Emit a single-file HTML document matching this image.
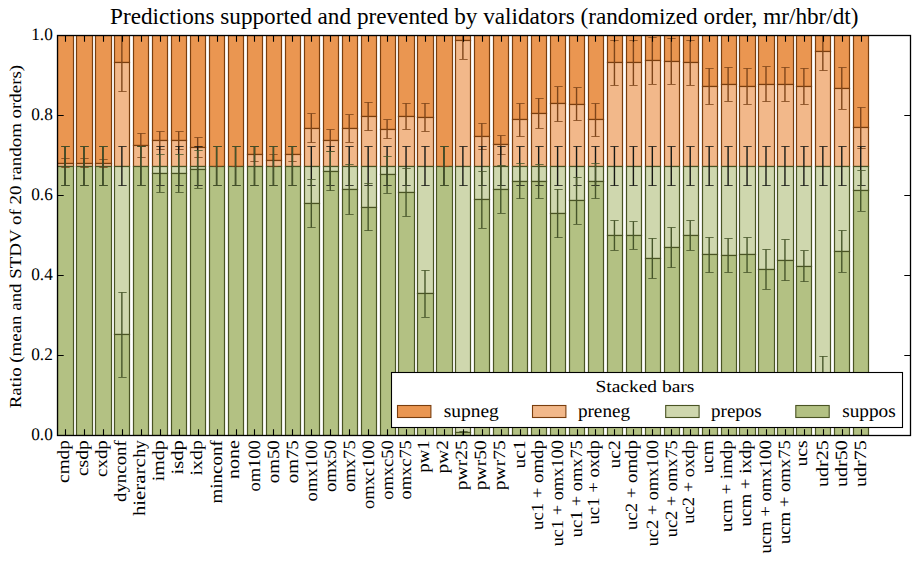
<!DOCTYPE html><html><head><meta charset="utf-8"><style>html,body{margin:0;padding:0;background:#fff;width:919px;height:562px;overflow:hidden}</style></head><body><svg width="919" height="562" viewBox="0 0 919 562" style="position:absolute;left:0;top:0">
<defs><clipPath id="ax"><rect x="57.5" y="35.3" width="852.5" height="400.0"/></clipPath></defs>
<g clip-path="url(#ax)"><rect x="57.5" y="35.50" width="16.0" height="128.00" fill="#EA9651" stroke="#7A3E0E" stroke-width="1.2"/><rect x="57.5" y="163.50" width="16.0" height="3.00" fill="#F2B88A" stroke="#7A3E0E" stroke-width="1.2"/><rect x="57.5" y="166.50" width="16.0" height="269.00" fill="#B3C183" stroke="#4A5424" stroke-width="1.2"/><rect x="76.5" y="35.50" width="16.0" height="128.00" fill="#EA9651" stroke="#7A3E0E" stroke-width="1.2"/><rect x="76.5" y="163.50" width="16.0" height="3.00" fill="#F2B88A" stroke="#7A3E0E" stroke-width="1.2"/><rect x="76.5" y="166.50" width="16.0" height="269.00" fill="#B3C183" stroke="#4A5424" stroke-width="1.2"/><rect x="95.5" y="35.50" width="16.0" height="128.00" fill="#EA9651" stroke="#7A3E0E" stroke-width="1.2"/><rect x="95.5" y="163.50" width="16.0" height="3.00" fill="#F2B88A" stroke="#7A3E0E" stroke-width="1.2"/><rect x="95.5" y="166.50" width="16.0" height="269.00" fill="#B3C183" stroke="#4A5424" stroke-width="1.2"/><rect x="114.5" y="35.50" width="15.0" height="27.00" fill="#EA9651" stroke="#7A3E0E" stroke-width="1.2"/><rect x="114.5" y="62.50" width="15.0" height="104.00" fill="#F2B88A" stroke="#7A3E0E" stroke-width="1.2"/><rect x="114.5" y="166.50" width="15.0" height="168.00" fill="#CFD7AE" stroke="#4A5424" stroke-width="1.2"/><rect x="114.5" y="334.50" width="15.0" height="101.00" fill="#B3C183" stroke="#4A5424" stroke-width="1.2"/><rect x="133.5" y="35.50" width="15.0" height="110.00" fill="#EA9651" stroke="#7A3E0E" stroke-width="1.2"/><rect x="133.5" y="145.50" width="15.0" height="21.00" fill="#F2B88A" stroke="#7A3E0E" stroke-width="1.2"/><rect x="133.5" y="166.50" width="15.0" height="269.00" fill="#B3C183" stroke="#4A5424" stroke-width="1.2"/><rect x="152.5" y="35.50" width="15.0" height="105.00" fill="#EA9651" stroke="#7A3E0E" stroke-width="1.2"/><rect x="152.5" y="140.50" width="15.0" height="26.00" fill="#F2B88A" stroke="#7A3E0E" stroke-width="1.2"/><rect x="152.5" y="166.50" width="15.0" height="7.00" fill="#CFD7AE" stroke="#4A5424" stroke-width="1.2"/><rect x="152.5" y="173.50" width="15.0" height="262.00" fill="#B3C183" stroke="#4A5424" stroke-width="1.2"/><rect x="171.5" y="35.50" width="15.0" height="105.00" fill="#EA9651" stroke="#7A3E0E" stroke-width="1.2"/><rect x="171.5" y="140.50" width="15.0" height="26.00" fill="#F2B88A" stroke="#7A3E0E" stroke-width="1.2"/><rect x="171.5" y="166.50" width="15.0" height="7.00" fill="#CFD7AE" stroke="#4A5424" stroke-width="1.2"/><rect x="171.5" y="173.50" width="15.0" height="262.00" fill="#B3C183" stroke="#4A5424" stroke-width="1.2"/><rect x="190.5" y="35.50" width="15.0" height="112.00" fill="#EA9651" stroke="#7A3E0E" stroke-width="1.2"/><rect x="190.5" y="147.50" width="15.0" height="19.00" fill="#F2B88A" stroke="#7A3E0E" stroke-width="1.2"/><rect x="190.5" y="166.50" width="15.0" height="3.00" fill="#CFD7AE" stroke="#4A5424" stroke-width="1.2"/><rect x="190.5" y="169.50" width="15.0" height="266.00" fill="#B3C183" stroke="#4A5424" stroke-width="1.2"/><rect x="209.5" y="35.50" width="15.0" height="131.00" fill="#EA9651" stroke="#7A3E0E" stroke-width="1.2"/><rect x="209.5" y="166.50" width="15.0" height="269.00" fill="#B3C183" stroke="#4A5424" stroke-width="1.2"/><rect x="228.5" y="35.50" width="15.0" height="131.00" fill="#EA9651" stroke="#7A3E0E" stroke-width="1.2"/><rect x="228.5" y="166.50" width="15.0" height="269.00" fill="#B3C183" stroke="#4A5424" stroke-width="1.2"/><rect x="247.5" y="35.50" width="15.0" height="119.00" fill="#EA9651" stroke="#7A3E0E" stroke-width="1.2"/><rect x="247.5" y="154.50" width="15.0" height="12.00" fill="#F2B88A" stroke="#7A3E0E" stroke-width="1.2"/><rect x="247.5" y="166.50" width="15.0" height="269.00" fill="#B3C183" stroke="#4A5424" stroke-width="1.2"/><rect x="266.5" y="35.50" width="15.0" height="125.00" fill="#EA9651" stroke="#7A3E0E" stroke-width="1.2"/><rect x="266.5" y="160.50" width="15.0" height="6.00" fill="#F2B88A" stroke="#7A3E0E" stroke-width="1.2"/><rect x="266.5" y="166.50" width="15.0" height="269.00" fill="#B3C183" stroke="#4A5424" stroke-width="1.2"/><rect x="285.5" y="35.50" width="15.0" height="119.00" fill="#EA9651" stroke="#7A3E0E" stroke-width="1.2"/><rect x="285.5" y="154.50" width="15.0" height="12.00" fill="#F2B88A" stroke="#7A3E0E" stroke-width="1.2"/><rect x="285.5" y="166.50" width="15.0" height="269.00" fill="#B3C183" stroke="#4A5424" stroke-width="1.2"/><rect x="304.5" y="35.50" width="15.0" height="93.00" fill="#EA9651" stroke="#7A3E0E" stroke-width="1.2"/><rect x="304.5" y="128.50" width="15.0" height="38.00" fill="#F2B88A" stroke="#7A3E0E" stroke-width="1.2"/><rect x="304.5" y="166.50" width="15.0" height="37.00" fill="#CFD7AE" stroke="#4A5424" stroke-width="1.2"/><rect x="304.5" y="203.50" width="15.0" height="232.00" fill="#B3C183" stroke="#4A5424" stroke-width="1.2"/><rect x="323.5" y="35.50" width="15.0" height="105.00" fill="#EA9651" stroke="#7A3E0E" stroke-width="1.2"/><rect x="323.5" y="140.50" width="15.0" height="26.00" fill="#F2B88A" stroke="#7A3E0E" stroke-width="1.2"/><rect x="323.5" y="166.50" width="15.0" height="5.00" fill="#CFD7AE" stroke="#4A5424" stroke-width="1.2"/><rect x="323.5" y="171.50" width="15.0" height="264.00" fill="#B3C183" stroke="#4A5424" stroke-width="1.2"/><rect x="342.5" y="35.50" width="15.0" height="93.00" fill="#EA9651" stroke="#7A3E0E" stroke-width="1.2"/><rect x="342.5" y="128.50" width="15.0" height="38.00" fill="#F2B88A" stroke="#7A3E0E" stroke-width="1.2"/><rect x="342.5" y="166.50" width="15.0" height="23.00" fill="#CFD7AE" stroke="#4A5424" stroke-width="1.2"/><rect x="342.5" y="189.50" width="15.0" height="246.00" fill="#B3C183" stroke="#4A5424" stroke-width="1.2"/><rect x="361.5" y="35.50" width="15.0" height="81.00" fill="#EA9651" stroke="#7A3E0E" stroke-width="1.2"/><rect x="361.5" y="116.50" width="15.0" height="50.00" fill="#F2B88A" stroke="#7A3E0E" stroke-width="1.2"/><rect x="361.5" y="166.50" width="15.0" height="41.00" fill="#CFD7AE" stroke="#4A5424" stroke-width="1.2"/><rect x="361.5" y="207.50" width="15.0" height="228.00" fill="#B3C183" stroke="#4A5424" stroke-width="1.2"/><rect x="380.5" y="35.50" width="15.0" height="94.00" fill="#EA9651" stroke="#7A3E0E" stroke-width="1.2"/><rect x="380.5" y="129.50" width="15.0" height="37.00" fill="#F2B88A" stroke="#7A3E0E" stroke-width="1.2"/><rect x="380.5" y="166.50" width="15.0" height="8.00" fill="#CFD7AE" stroke="#4A5424" stroke-width="1.2"/><rect x="380.5" y="174.50" width="15.0" height="261.00" fill="#B3C183" stroke="#4A5424" stroke-width="1.2"/><rect x="398.5" y="35.50" width="16.0" height="81.00" fill="#EA9651" stroke="#7A3E0E" stroke-width="1.2"/><rect x="398.5" y="116.50" width="16.0" height="50.00" fill="#F2B88A" stroke="#7A3E0E" stroke-width="1.2"/><rect x="398.5" y="166.50" width="16.0" height="26.00" fill="#CFD7AE" stroke="#4A5424" stroke-width="1.2"/><rect x="398.5" y="192.50" width="16.0" height="243.00" fill="#B3C183" stroke="#4A5424" stroke-width="1.2"/><rect x="417.5" y="35.50" width="16.0" height="82.00" fill="#EA9651" stroke="#7A3E0E" stroke-width="1.2"/><rect x="417.5" y="117.50" width="16.0" height="49.00" fill="#F2B88A" stroke="#7A3E0E" stroke-width="1.2"/><rect x="417.5" y="166.50" width="16.0" height="127.00" fill="#CFD7AE" stroke="#4A5424" stroke-width="1.2"/><rect x="417.5" y="293.50" width="16.0" height="142.00" fill="#B3C183" stroke="#4A5424" stroke-width="1.2"/><rect x="436.5" y="35.50" width="16.0" height="131.00" fill="#EA9651" stroke="#7A3E0E" stroke-width="1.2"/><rect x="436.5" y="166.50" width="16.0" height="269.00" fill="#B3C183" stroke="#4A5424" stroke-width="1.2"/><rect x="455.5" y="35.50" width="15.0" height="5.00" fill="#EA9651" stroke="#7A3E0E" stroke-width="1.2"/><rect x="455.5" y="40.50" width="15.0" height="126.00" fill="#F2B88A" stroke="#7A3E0E" stroke-width="1.2"/><rect x="455.5" y="166.50" width="15.0" height="266.00" fill="#CFD7AE" stroke="#4A5424" stroke-width="1.2"/><rect x="455.5" y="432.50" width="15.0" height="3.00" fill="#B3C183" stroke="#4A5424" stroke-width="1.2"/><rect x="474.5" y="35.50" width="15.0" height="101.00" fill="#EA9651" stroke="#7A3E0E" stroke-width="1.2"/><rect x="474.5" y="136.50" width="15.0" height="30.00" fill="#F2B88A" stroke="#7A3E0E" stroke-width="1.2"/><rect x="474.5" y="166.50" width="15.0" height="33.00" fill="#CFD7AE" stroke="#4A5424" stroke-width="1.2"/><rect x="474.5" y="199.50" width="15.0" height="236.00" fill="#B3C183" stroke="#4A5424" stroke-width="1.2"/><rect x="493.5" y="35.50" width="15.0" height="109.00" fill="#EA9651" stroke="#7A3E0E" stroke-width="1.2"/><rect x="493.5" y="144.50" width="15.0" height="22.00" fill="#F2B88A" stroke="#7A3E0E" stroke-width="1.2"/><rect x="493.5" y="166.50" width="15.0" height="23.00" fill="#CFD7AE" stroke="#4A5424" stroke-width="1.2"/><rect x="493.5" y="189.50" width="15.0" height="246.00" fill="#B3C183" stroke="#4A5424" stroke-width="1.2"/><rect x="512.5" y="35.50" width="15.0" height="84.00" fill="#EA9651" stroke="#7A3E0E" stroke-width="1.2"/><rect x="512.5" y="119.50" width="15.0" height="47.00" fill="#F2B88A" stroke="#7A3E0E" stroke-width="1.2"/><rect x="512.5" y="166.50" width="15.0" height="15.00" fill="#CFD7AE" stroke="#4A5424" stroke-width="1.2"/><rect x="512.5" y="181.50" width="15.0" height="254.00" fill="#B3C183" stroke="#4A5424" stroke-width="1.2"/><rect x="531.5" y="35.50" width="15.0" height="78.00" fill="#EA9651" stroke="#7A3E0E" stroke-width="1.2"/><rect x="531.5" y="113.50" width="15.0" height="53.00" fill="#F2B88A" stroke="#7A3E0E" stroke-width="1.2"/><rect x="531.5" y="166.50" width="15.0" height="15.00" fill="#CFD7AE" stroke="#4A5424" stroke-width="1.2"/><rect x="531.5" y="181.50" width="15.0" height="254.00" fill="#B3C183" stroke="#4A5424" stroke-width="1.2"/><rect x="550.5" y="35.50" width="15.0" height="68.00" fill="#EA9651" stroke="#7A3E0E" stroke-width="1.2"/><rect x="550.5" y="103.50" width="15.0" height="63.00" fill="#F2B88A" stroke="#7A3E0E" stroke-width="1.2"/><rect x="550.5" y="166.50" width="15.0" height="47.00" fill="#CFD7AE" stroke="#4A5424" stroke-width="1.2"/><rect x="550.5" y="213.50" width="15.0" height="222.00" fill="#B3C183" stroke="#4A5424" stroke-width="1.2"/><rect x="569.5" y="35.50" width="15.0" height="69.00" fill="#EA9651" stroke="#7A3E0E" stroke-width="1.2"/><rect x="569.5" y="104.50" width="15.0" height="62.00" fill="#F2B88A" stroke="#7A3E0E" stroke-width="1.2"/><rect x="569.5" y="166.50" width="15.0" height="34.00" fill="#CFD7AE" stroke="#4A5424" stroke-width="1.2"/><rect x="569.5" y="200.50" width="15.0" height="235.00" fill="#B3C183" stroke="#4A5424" stroke-width="1.2"/><rect x="588.5" y="35.50" width="15.0" height="84.00" fill="#EA9651" stroke="#7A3E0E" stroke-width="1.2"/><rect x="588.5" y="119.50" width="15.0" height="47.00" fill="#F2B88A" stroke="#7A3E0E" stroke-width="1.2"/><rect x="588.5" y="166.50" width="15.0" height="15.00" fill="#CFD7AE" stroke="#4A5424" stroke-width="1.2"/><rect x="588.5" y="181.50" width="15.0" height="254.00" fill="#B3C183" stroke="#4A5424" stroke-width="1.2"/><rect x="607.5" y="35.50" width="15.0" height="27.00" fill="#EA9651" stroke="#7A3E0E" stroke-width="1.2"/><rect x="607.5" y="62.50" width="15.0" height="104.00" fill="#F2B88A" stroke="#7A3E0E" stroke-width="1.2"/><rect x="607.5" y="166.50" width="15.0" height="69.00" fill="#CFD7AE" stroke="#4A5424" stroke-width="1.2"/><rect x="607.5" y="235.50" width="15.0" height="200.00" fill="#B3C183" stroke="#4A5424" stroke-width="1.2"/><rect x="626.5" y="35.50" width="15.0" height="27.00" fill="#EA9651" stroke="#7A3E0E" stroke-width="1.2"/><rect x="626.5" y="62.50" width="15.0" height="104.00" fill="#F2B88A" stroke="#7A3E0E" stroke-width="1.2"/><rect x="626.5" y="166.50" width="15.0" height="69.00" fill="#CFD7AE" stroke="#4A5424" stroke-width="1.2"/><rect x="626.5" y="235.50" width="15.0" height="200.00" fill="#B3C183" stroke="#4A5424" stroke-width="1.2"/><rect x="645.5" y="35.50" width="15.0" height="25.00" fill="#EA9651" stroke="#7A3E0E" stroke-width="1.2"/><rect x="645.5" y="60.50" width="15.0" height="106.00" fill="#F2B88A" stroke="#7A3E0E" stroke-width="1.2"/><rect x="645.5" y="166.50" width="15.0" height="92.00" fill="#CFD7AE" stroke="#4A5424" stroke-width="1.2"/><rect x="645.5" y="258.50" width="15.0" height="177.00" fill="#B3C183" stroke="#4A5424" stroke-width="1.2"/><rect x="664.5" y="35.50" width="15.0" height="26.00" fill="#EA9651" stroke="#7A3E0E" stroke-width="1.2"/><rect x="664.5" y="61.50" width="15.0" height="105.00" fill="#F2B88A" stroke="#7A3E0E" stroke-width="1.2"/><rect x="664.5" y="166.50" width="15.0" height="81.00" fill="#CFD7AE" stroke="#4A5424" stroke-width="1.2"/><rect x="664.5" y="247.50" width="15.0" height="188.00" fill="#B3C183" stroke="#4A5424" stroke-width="1.2"/><rect x="683.5" y="35.50" width="15.0" height="27.00" fill="#EA9651" stroke="#7A3E0E" stroke-width="1.2"/><rect x="683.5" y="62.50" width="15.0" height="104.00" fill="#F2B88A" stroke="#7A3E0E" stroke-width="1.2"/><rect x="683.5" y="166.50" width="15.0" height="69.00" fill="#CFD7AE" stroke="#4A5424" stroke-width="1.2"/><rect x="683.5" y="235.50" width="15.0" height="200.00" fill="#B3C183" stroke="#4A5424" stroke-width="1.2"/><rect x="702.5" y="35.50" width="15.0" height="51.00" fill="#EA9651" stroke="#7A3E0E" stroke-width="1.2"/><rect x="702.5" y="86.50" width="15.0" height="80.00" fill="#F2B88A" stroke="#7A3E0E" stroke-width="1.2"/><rect x="702.5" y="166.50" width="15.0" height="88.00" fill="#CFD7AE" stroke="#4A5424" stroke-width="1.2"/><rect x="702.5" y="254.50" width="15.0" height="181.00" fill="#B3C183" stroke="#4A5424" stroke-width="1.2"/><rect x="721.5" y="35.50" width="15.0" height="49.00" fill="#EA9651" stroke="#7A3E0E" stroke-width="1.2"/><rect x="721.5" y="84.50" width="15.0" height="82.00" fill="#F2B88A" stroke="#7A3E0E" stroke-width="1.2"/><rect x="721.5" y="166.50" width="15.0" height="89.00" fill="#CFD7AE" stroke="#4A5424" stroke-width="1.2"/><rect x="721.5" y="255.50" width="15.0" height="180.00" fill="#B3C183" stroke="#4A5424" stroke-width="1.2"/><rect x="739.5" y="35.50" width="16.0" height="51.00" fill="#EA9651" stroke="#7A3E0E" stroke-width="1.2"/><rect x="739.5" y="86.50" width="16.0" height="80.00" fill="#F2B88A" stroke="#7A3E0E" stroke-width="1.2"/><rect x="739.5" y="166.50" width="16.0" height="88.00" fill="#CFD7AE" stroke="#4A5424" stroke-width="1.2"/><rect x="739.5" y="254.50" width="16.0" height="181.00" fill="#B3C183" stroke="#4A5424" stroke-width="1.2"/><rect x="758.5" y="35.50" width="16.0" height="49.00" fill="#EA9651" stroke="#7A3E0E" stroke-width="1.2"/><rect x="758.5" y="84.50" width="16.0" height="82.00" fill="#F2B88A" stroke="#7A3E0E" stroke-width="1.2"/><rect x="758.5" y="166.50" width="16.0" height="103.00" fill="#CFD7AE" stroke="#4A5424" stroke-width="1.2"/><rect x="758.5" y="269.50" width="16.0" height="166.00" fill="#B3C183" stroke="#4A5424" stroke-width="1.2"/><rect x="777.5" y="35.50" width="16.0" height="49.00" fill="#EA9651" stroke="#7A3E0E" stroke-width="1.2"/><rect x="777.5" y="84.50" width="16.0" height="82.00" fill="#F2B88A" stroke="#7A3E0E" stroke-width="1.2"/><rect x="777.5" y="166.50" width="16.0" height="94.00" fill="#CFD7AE" stroke="#4A5424" stroke-width="1.2"/><rect x="777.5" y="260.50" width="16.0" height="175.00" fill="#B3C183" stroke="#4A5424" stroke-width="1.2"/><rect x="796.5" y="35.50" width="15.0" height="51.00" fill="#EA9651" stroke="#7A3E0E" stroke-width="1.2"/><rect x="796.5" y="86.50" width="15.0" height="80.00" fill="#F2B88A" stroke="#7A3E0E" stroke-width="1.2"/><rect x="796.5" y="166.50" width="15.0" height="100.00" fill="#CFD7AE" stroke="#4A5424" stroke-width="1.2"/><rect x="796.5" y="266.50" width="15.0" height="169.00" fill="#B3C183" stroke="#4A5424" stroke-width="1.2"/><rect x="815.5" y="35.50" width="15.0" height="16.00" fill="#EA9651" stroke="#7A3E0E" stroke-width="1.2"/><rect x="815.5" y="51.50" width="15.0" height="115.00" fill="#F2B88A" stroke="#7A3E0E" stroke-width="1.2"/><rect x="815.5" y="166.50" width="15.0" height="221.00" fill="#CFD7AE" stroke="#4A5424" stroke-width="1.2"/><rect x="815.5" y="387.50" width="15.0" height="48.00" fill="#B3C183" stroke="#4A5424" stroke-width="1.2"/><rect x="834.5" y="35.50" width="15.0" height="53.00" fill="#EA9651" stroke="#7A3E0E" stroke-width="1.2"/><rect x="834.5" y="88.50" width="15.0" height="78.00" fill="#F2B88A" stroke="#7A3E0E" stroke-width="1.2"/><rect x="834.5" y="166.50" width="15.0" height="85.00" fill="#CFD7AE" stroke="#4A5424" stroke-width="1.2"/><rect x="834.5" y="251.50" width="15.0" height="184.00" fill="#B3C183" stroke="#4A5424" stroke-width="1.2"/><rect x="853.5" y="35.50" width="15.0" height="92.00" fill="#EA9651" stroke="#7A3E0E" stroke-width="1.2"/><rect x="853.5" y="127.50" width="15.0" height="39.00" fill="#F2B88A" stroke="#7A3E0E" stroke-width="1.2"/><rect x="853.5" y="166.50" width="15.0" height="24.00" fill="#CFD7AE" stroke="#4A5424" stroke-width="1.2"/><rect x="853.5" y="190.50" width="15.0" height="245.00" fill="#B3C183" stroke="#4A5424" stroke-width="1.2"/><path d="M65.04 158.73V167.53" stroke="#7E451A" stroke-width="1.39" fill="none"/><path d="M61.33 158.50H69.67M61.33 167.50H69.67" stroke="#7E451A" stroke-width="0.8" fill="none"/><path d="M65.04 146.53V185.72" stroke="#161814" stroke-width="1.39" fill="none"/><path d="M61.33 146.50H69.67M61.33 185.50H69.67" stroke="#161814" stroke-width="0.8" fill="none"/><path d="M65.04 146.73V185.52" stroke="#46552A" stroke-width="1.39" fill="none"/><path d="M61.33 146.50H69.67M61.33 185.50H69.67" stroke="#46552A" stroke-width="0.8" fill="none"/><path d="M83.98 158.73V167.53" stroke="#7E451A" stroke-width="1.39" fill="none"/><path d="M80.33 158.50H88.67M80.33 167.50H88.67" stroke="#7E451A" stroke-width="0.8" fill="none"/><path d="M83.98 146.53V185.72" stroke="#161814" stroke-width="1.39" fill="none"/><path d="M80.33 146.50H88.67M80.33 185.50H88.67" stroke="#161814" stroke-width="0.8" fill="none"/><path d="M83.98 146.73V185.52" stroke="#46552A" stroke-width="1.39" fill="none"/><path d="M80.33 146.50H88.67M80.33 185.50H88.67" stroke="#46552A" stroke-width="0.8" fill="none"/><path d="M102.93 159.33V167.33" stroke="#7E451A" stroke-width="1.39" fill="none"/><path d="M99.33 159.50H107.67M99.33 167.50H107.67" stroke="#7E451A" stroke-width="0.8" fill="none"/><path d="M102.93 146.53V185.72" stroke="#161814" stroke-width="1.39" fill="none"/><path d="M99.33 146.50H107.67M99.33 185.50H107.67" stroke="#161814" stroke-width="0.8" fill="none"/><path d="M102.93 146.73V185.52" stroke="#46552A" stroke-width="1.39" fill="none"/><path d="M99.33 146.50H107.67M99.33 185.50H107.67" stroke="#46552A" stroke-width="0.8" fill="none"/><path d="M121.87 33.62V91.45" stroke="#7E451A" stroke-width="1.39" fill="none"/><path d="M118.33 33.50H126.67M118.33 91.50H126.67" stroke="#7E451A" stroke-width="0.8" fill="none"/><path d="M121.87 146.53V185.72" stroke="#161814" stroke-width="1.39" fill="none"/><path d="M118.33 146.50H126.67M118.33 185.50H126.67" stroke="#161814" stroke-width="0.8" fill="none"/><path d="M121.87 292.31V377.11" stroke="#46552A" stroke-width="1.39" fill="none"/><path d="M118.33 292.50H126.67M118.33 377.50H126.67" stroke="#46552A" stroke-width="0.8" fill="none"/><path d="M140.82 133.13V157.93" stroke="#7E451A" stroke-width="1.39" fill="none"/><path d="M137.33 133.50H145.67M137.33 157.50H145.67" stroke="#7E451A" stroke-width="0.8" fill="none"/><path d="M140.82 146.53V185.72" stroke="#161814" stroke-width="1.39" fill="none"/><path d="M137.33 146.50H145.67M137.33 185.50H145.67" stroke="#161814" stroke-width="0.8" fill="none"/><path d="M140.82 146.73V185.52" stroke="#46552A" stroke-width="1.39" fill="none"/><path d="M137.33 146.50H145.67M137.33 185.50H145.67" stroke="#46552A" stroke-width="0.8" fill="none"/><path d="M159.76 131.53V149.13" stroke="#7E451A" stroke-width="1.39" fill="none"/><path d="M156.33 131.50H164.67M156.33 149.50H164.67" stroke="#7E451A" stroke-width="0.8" fill="none"/><path d="M159.76 146.53V185.72" stroke="#161814" stroke-width="1.39" fill="none"/><path d="M156.33 146.50H164.67M156.33 185.50H164.67" stroke="#161814" stroke-width="0.8" fill="none"/><path d="M159.76 154.13V192.36" stroke="#46552A" stroke-width="1.39" fill="none"/><path d="M156.33 154.50H164.67M156.33 192.50H164.67" stroke="#46552A" stroke-width="0.8" fill="none"/><path d="M178.71 131.53V149.13" stroke="#7E451A" stroke-width="1.39" fill="none"/><path d="M175.33 131.50H183.67M175.33 149.50H183.67" stroke="#7E451A" stroke-width="0.8" fill="none"/><path d="M178.71 146.53V185.72" stroke="#161814" stroke-width="1.39" fill="none"/><path d="M175.33 146.50H183.67M175.33 185.50H183.67" stroke="#161814" stroke-width="0.8" fill="none"/><path d="M178.71 154.13V192.36" stroke="#46552A" stroke-width="1.39" fill="none"/><path d="M175.33 154.50H183.67M175.33 192.50H183.67" stroke="#46552A" stroke-width="0.8" fill="none"/><path d="M197.65 137.57V157.89" stroke="#7E451A" stroke-width="1.39" fill="none"/><path d="M194.33 137.50H202.67M194.33 157.50H202.67" stroke="#7E451A" stroke-width="0.8" fill="none"/><path d="M197.65 146.53V185.72" stroke="#161814" stroke-width="1.39" fill="none"/><path d="M194.33 146.50H202.67M194.33 185.50H202.67" stroke="#161814" stroke-width="0.8" fill="none"/><path d="M197.65 150.53V188.12" stroke="#46552A" stroke-width="1.39" fill="none"/><path d="M194.33 150.50H202.67M194.33 188.50H202.67" stroke="#46552A" stroke-width="0.8" fill="none"/><path d="M216.60 166.13V166.13" stroke="#7E451A" stroke-width="1.39" fill="none"/><path d="M213.33 166.50H221.67M213.33 166.50H221.67" stroke="#7E451A" stroke-width="0.8" fill="none"/><path d="M216.60 146.53V185.72" stroke="#161814" stroke-width="1.39" fill="none"/><path d="M213.33 146.50H221.67M213.33 185.50H221.67" stroke="#161814" stroke-width="0.8" fill="none"/><path d="M216.60 146.73V185.52" stroke="#46552A" stroke-width="1.39" fill="none"/><path d="M213.33 146.50H221.67M213.33 185.50H221.67" stroke="#46552A" stroke-width="0.8" fill="none"/><path d="M235.54 166.13V166.13" stroke="#7E451A" stroke-width="1.39" fill="none"/><path d="M232.33 166.50H240.67M232.33 166.50H240.67" stroke="#7E451A" stroke-width="0.8" fill="none"/><path d="M235.54 146.53V185.72" stroke="#161814" stroke-width="1.39" fill="none"/><path d="M232.33 146.50H240.67M232.33 185.50H240.67" stroke="#161814" stroke-width="0.8" fill="none"/><path d="M235.54 146.73V185.52" stroke="#46552A" stroke-width="1.39" fill="none"/><path d="M232.33 146.50H240.67M232.33 185.50H240.67" stroke="#46552A" stroke-width="0.8" fill="none"/><path d="M254.49 146.33V161.93" stroke="#7E451A" stroke-width="1.39" fill="none"/><path d="M250.33 146.50H258.67M250.33 161.50H258.67" stroke="#7E451A" stroke-width="0.8" fill="none"/><path d="M254.49 146.53V185.72" stroke="#161814" stroke-width="1.39" fill="none"/><path d="M250.33 146.50H258.67M250.33 185.50H258.67" stroke="#161814" stroke-width="0.8" fill="none"/><path d="M254.49 146.73V185.52" stroke="#46552A" stroke-width="1.39" fill="none"/><path d="M250.33 146.50H258.67M250.33 185.50H258.67" stroke="#46552A" stroke-width="0.8" fill="none"/><path d="M273.43 154.33V166.33" stroke="#7E451A" stroke-width="1.39" fill="none"/><path d="M269.33 154.50H277.67M269.33 166.50H277.67" stroke="#7E451A" stroke-width="0.8" fill="none"/><path d="M273.43 146.53V185.72" stroke="#161814" stroke-width="1.39" fill="none"/><path d="M269.33 146.50H277.67M269.33 185.50H277.67" stroke="#161814" stroke-width="0.8" fill="none"/><path d="M273.43 146.73V185.52" stroke="#46552A" stroke-width="1.39" fill="none"/><path d="M269.33 146.50H277.67M269.33 185.50H277.67" stroke="#46552A" stroke-width="0.8" fill="none"/><path d="M292.38 146.33V161.93" stroke="#7E451A" stroke-width="1.39" fill="none"/><path d="M288.33 146.50H296.67M288.33 161.50H296.67" stroke="#7E451A" stroke-width="0.8" fill="none"/><path d="M292.38 146.53V185.72" stroke="#161814" stroke-width="1.39" fill="none"/><path d="M288.33 146.50H296.67M288.33 185.50H296.67" stroke="#161814" stroke-width="0.8" fill="none"/><path d="M292.38 146.73V185.52" stroke="#46552A" stroke-width="1.39" fill="none"/><path d="M288.33 146.50H296.67M288.33 185.50H296.67" stroke="#46552A" stroke-width="0.8" fill="none"/><path d="M311.32 113.57V142.69" stroke="#7E451A" stroke-width="1.39" fill="none"/><path d="M307.33 113.50H315.67M307.33 142.50H315.67" stroke="#7E451A" stroke-width="0.8" fill="none"/><path d="M311.32 146.53V185.72" stroke="#161814" stroke-width="1.39" fill="none"/><path d="M307.33 146.50H315.67M307.33 185.50H315.67" stroke="#161814" stroke-width="0.8" fill="none"/><path d="M311.32 179.29V227.52" stroke="#46552A" stroke-width="1.39" fill="none"/><path d="M307.33 179.50H315.67M307.33 227.50H315.67" stroke="#46552A" stroke-width="0.8" fill="none"/><path d="M330.27 129.53V151.53" stroke="#7E451A" stroke-width="1.39" fill="none"/><path d="M326.33 129.50H334.67M326.33 151.50H334.67" stroke="#7E451A" stroke-width="0.8" fill="none"/><path d="M330.27 146.53V185.72" stroke="#161814" stroke-width="1.39" fill="none"/><path d="M326.33 146.50H334.67M326.33 185.50H334.67" stroke="#161814" stroke-width="0.8" fill="none"/><path d="M330.27 151.97V190.84" stroke="#46552A" stroke-width="1.39" fill="none"/><path d="M326.33 151.50H334.67M326.33 190.50H334.67" stroke="#46552A" stroke-width="0.8" fill="none"/><path d="M349.21 114.93V142.13" stroke="#7E451A" stroke-width="1.39" fill="none"/><path d="M345.33 114.50H353.67M345.33 142.50H353.67" stroke="#7E451A" stroke-width="0.8" fill="none"/><path d="M349.21 146.53V185.72" stroke="#161814" stroke-width="1.39" fill="none"/><path d="M345.33 146.50H353.67M345.33 185.50H353.67" stroke="#161814" stroke-width="0.8" fill="none"/><path d="M349.21 164.13V214.36" stroke="#46552A" stroke-width="1.39" fill="none"/><path d="M345.33 164.50H353.67M345.33 214.50H353.67" stroke="#46552A" stroke-width="0.8" fill="none"/><path d="M368.16 102.21V130.45" stroke="#7E451A" stroke-width="1.39" fill="none"/><path d="M364.33 102.50H372.67M364.33 130.50H372.67" stroke="#7E451A" stroke-width="0.8" fill="none"/><path d="M368.16 146.53V185.72" stroke="#161814" stroke-width="1.39" fill="none"/><path d="M364.33 146.50H372.67M364.33 185.50H372.67" stroke="#161814" stroke-width="0.8" fill="none"/><path d="M368.16 183.53V230.72" stroke="#46552A" stroke-width="1.39" fill="none"/><path d="M364.33 183.50H372.67M364.33 230.50H372.67" stroke="#46552A" stroke-width="0.8" fill="none"/><path d="M387.10 119.69V138.57" stroke="#7E451A" stroke-width="1.39" fill="none"/><path d="M383.33 119.50H391.67M383.33 138.50H391.67" stroke="#7E451A" stroke-width="0.8" fill="none"/><path d="M387.10 146.53V185.72" stroke="#161814" stroke-width="1.39" fill="none"/><path d="M383.33 146.50H391.67M383.33 185.50H391.67" stroke="#161814" stroke-width="0.8" fill="none"/><path d="M387.10 156.21V193.24" stroke="#46552A" stroke-width="1.39" fill="none"/><path d="M383.33 156.50H391.67M383.33 193.50H391.67" stroke="#46552A" stroke-width="0.8" fill="none"/><path d="M406.05 103.37V129.29" stroke="#7E451A" stroke-width="1.39" fill="none"/><path d="M402.33 103.50H410.67M402.33 129.50H410.67" stroke="#7E451A" stroke-width="0.8" fill="none"/><path d="M406.05 146.53V185.72" stroke="#161814" stroke-width="1.39" fill="none"/><path d="M402.33 146.50H410.67M402.33 185.50H410.67" stroke="#161814" stroke-width="0.8" fill="none"/><path d="M406.05 168.33V216.32" stroke="#46552A" stroke-width="1.39" fill="none"/><path d="M402.33 168.50H410.67M402.33 216.50H410.67" stroke="#46552A" stroke-width="0.8" fill="none"/><path d="M424.99 103.33V131.33" stroke="#7E451A" stroke-width="1.39" fill="none"/><path d="M421.33 103.50H429.67M421.33 131.50H429.67" stroke="#7E451A" stroke-width="0.8" fill="none"/><path d="M424.99 146.53V185.72" stroke="#161814" stroke-width="1.39" fill="none"/><path d="M421.33 146.50H429.67M421.33 185.50H429.67" stroke="#161814" stroke-width="0.8" fill="none"/><path d="M424.99 270.32V317.11" stroke="#46552A" stroke-width="1.39" fill="none"/><path d="M421.33 270.50H429.67M421.33 317.50H429.67" stroke="#46552A" stroke-width="0.8" fill="none"/><path d="M443.94 166.13V166.13" stroke="#7E451A" stroke-width="1.39" fill="none"/><path d="M440.33 166.50H448.67M440.33 166.50H448.67" stroke="#7E451A" stroke-width="0.8" fill="none"/><path d="M443.94 146.53V185.72" stroke="#161814" stroke-width="1.39" fill="none"/><path d="M440.33 146.50H448.67M440.33 185.50H448.67" stroke="#161814" stroke-width="0.8" fill="none"/><path d="M443.94 146.73V185.52" stroke="#46552A" stroke-width="1.39" fill="none"/><path d="M440.33 146.50H448.67M440.33 185.50H448.67" stroke="#46552A" stroke-width="0.8" fill="none"/><path d="M462.88 27.34V59.10" stroke="#7E451A" stroke-width="1.39" fill="none"/><path d="M459.33 21.50H467.67M459.33 59.50H467.67" stroke="#7E451A" stroke-width="0.8" fill="none"/><path d="M462.88 146.53V185.72" stroke="#161814" stroke-width="1.39" fill="none"/><path d="M459.33 146.50H467.67M459.33 185.50H467.67" stroke="#161814" stroke-width="0.8" fill="none"/><path d="M462.88 431.50V435.10" stroke="#46552A" stroke-width="1.39" fill="none"/><path d="M459.33 431.50H467.67M459.33 435.50H467.67" stroke="#46552A" stroke-width="0.8" fill="none"/><path d="M481.83 123.37V149.29" stroke="#7E451A" stroke-width="1.39" fill="none"/><path d="M478.33 123.50H486.67M478.33 149.50H486.67" stroke="#7E451A" stroke-width="0.8" fill="none"/><path d="M481.83 146.53V185.72" stroke="#161814" stroke-width="1.39" fill="none"/><path d="M478.33 146.50H486.67M478.33 185.50H486.67" stroke="#161814" stroke-width="0.8" fill="none"/><path d="M481.83 171.05V228.00" stroke="#46552A" stroke-width="1.39" fill="none"/><path d="M478.33 171.50H486.67M478.33 228.50H486.67" stroke="#46552A" stroke-width="0.8" fill="none"/><path d="M500.77 135.49V154.53" stroke="#7E451A" stroke-width="1.39" fill="none"/><path d="M497.33 135.50H505.67M497.33 154.50H505.67" stroke="#7E451A" stroke-width="0.8" fill="none"/><path d="M500.77 146.53V185.72" stroke="#161814" stroke-width="1.39" fill="none"/><path d="M497.33 146.50H505.67M497.33 185.50H505.67" stroke="#161814" stroke-width="0.8" fill="none"/><path d="M500.77 165.41V213.24" stroke="#46552A" stroke-width="1.39" fill="none"/><path d="M497.33 165.50H505.67M497.33 213.50H505.67" stroke="#46552A" stroke-width="0.8" fill="none"/><path d="M519.72 103.53V136.49" stroke="#7E451A" stroke-width="1.39" fill="none"/><path d="M516.33 103.50H524.67M516.33 136.50H524.67" stroke="#7E451A" stroke-width="0.8" fill="none"/><path d="M519.72 146.53V185.72" stroke="#161814" stroke-width="1.39" fill="none"/><path d="M516.33 146.50H524.67M516.33 185.50H524.67" stroke="#161814" stroke-width="0.8" fill="none"/><path d="M519.72 163.53V198.72" stroke="#46552A" stroke-width="1.39" fill="none"/><path d="M516.33 163.50H524.67M516.33 198.50H524.67" stroke="#46552A" stroke-width="0.8" fill="none"/><path d="M538.66 98.33V128.33" stroke="#7E451A" stroke-width="1.39" fill="none"/><path d="M535.33 98.50H543.67M535.33 128.50H543.67" stroke="#7E451A" stroke-width="0.8" fill="none"/><path d="M538.66 146.53V185.72" stroke="#161814" stroke-width="1.39" fill="none"/><path d="M535.33 146.50H543.67M535.33 185.50H543.67" stroke="#161814" stroke-width="0.8" fill="none"/><path d="M538.66 164.09V198.40" stroke="#46552A" stroke-width="1.39" fill="none"/><path d="M535.33 164.50H543.67M535.33 198.50H543.67" stroke="#46552A" stroke-width="0.8" fill="none"/><path d="M557.61 86.65V121.61" stroke="#7E451A" stroke-width="1.39" fill="none"/><path d="M554.33 86.50H562.67M554.33 121.50H562.67" stroke="#7E451A" stroke-width="0.8" fill="none"/><path d="M557.61 146.53V185.72" stroke="#161814" stroke-width="1.39" fill="none"/><path d="M554.33 146.50H562.67M554.33 185.50H562.67" stroke="#161814" stroke-width="0.8" fill="none"/><path d="M557.61 189.12V237.92" stroke="#46552A" stroke-width="1.39" fill="none"/><path d="M554.33 189.50H562.67M554.33 237.50H562.67" stroke="#46552A" stroke-width="0.8" fill="none"/><path d="M576.55 87.77V120.49" stroke="#7E451A" stroke-width="1.39" fill="none"/><path d="M573.33 87.50H581.67M573.33 120.50H581.67" stroke="#7E451A" stroke-width="0.8" fill="none"/><path d="M576.55 146.53V185.72" stroke="#161814" stroke-width="1.39" fill="none"/><path d="M573.33 146.50H581.67M573.33 185.50H581.67" stroke="#161814" stroke-width="0.8" fill="none"/><path d="M576.55 177.17V224.12" stroke="#46552A" stroke-width="1.39" fill="none"/><path d="M573.33 177.50H581.67M573.33 224.50H581.67" stroke="#46552A" stroke-width="0.8" fill="none"/><path d="M595.50 103.53V136.49" stroke="#7E451A" stroke-width="1.39" fill="none"/><path d="M591.33 103.50H599.67M591.33 136.50H599.67" stroke="#7E451A" stroke-width="0.8" fill="none"/><path d="M595.50 146.53V185.72" stroke="#161814" stroke-width="1.39" fill="none"/><path d="M591.33 146.50H599.67M591.33 185.50H599.67" stroke="#161814" stroke-width="0.8" fill="none"/><path d="M595.50 163.65V198.60" stroke="#46552A" stroke-width="1.39" fill="none"/><path d="M591.33 163.50H599.67M591.33 198.50H599.67" stroke="#46552A" stroke-width="0.8" fill="none"/><path d="M614.44 40.22V85.26" stroke="#7E451A" stroke-width="1.39" fill="none"/><path d="M610.33 40.50H618.67M610.33 85.50H618.67" stroke="#7E451A" stroke-width="0.8" fill="none"/><path d="M614.44 146.53V185.72" stroke="#161814" stroke-width="1.39" fill="none"/><path d="M610.33 146.50H618.67M610.33 185.50H618.67" stroke="#161814" stroke-width="0.8" fill="none"/><path d="M614.44 220.52V250.28" stroke="#46552A" stroke-width="1.39" fill="none"/><path d="M610.33 220.50H618.67M610.33 250.50H618.67" stroke="#46552A" stroke-width="0.8" fill="none"/><path d="M633.39 40.22V85.26" stroke="#7E451A" stroke-width="1.39" fill="none"/><path d="M629.33 40.50H637.67M629.33 85.50H637.67" stroke="#7E451A" stroke-width="0.8" fill="none"/><path d="M633.39 146.53V185.72" stroke="#161814" stroke-width="1.39" fill="none"/><path d="M629.33 146.50H637.67M629.33 185.50H637.67" stroke="#161814" stroke-width="0.8" fill="none"/><path d="M633.39 221.48V249.32" stroke="#46552A" stroke-width="1.39" fill="none"/><path d="M629.33 221.50H637.67M629.33 249.50H637.67" stroke="#46552A" stroke-width="0.8" fill="none"/><path d="M652.33 37.02V84.06" stroke="#7E451A" stroke-width="1.39" fill="none"/><path d="M648.33 37.50H656.67M648.33 84.50H656.67" stroke="#7E451A" stroke-width="0.8" fill="none"/><path d="M652.33 146.53V185.72" stroke="#161814" stroke-width="1.39" fill="none"/><path d="M648.33 146.50H656.67M648.33 185.50H656.67" stroke="#161814" stroke-width="0.8" fill="none"/><path d="M652.33 238.24V278.24" stroke="#46552A" stroke-width="1.39" fill="none"/><path d="M648.33 238.50H656.67M648.33 278.50H656.67" stroke="#46552A" stroke-width="0.8" fill="none"/><path d="M671.28 38.06V84.22" stroke="#7E451A" stroke-width="1.39" fill="none"/><path d="M667.33 38.50H675.67M667.33 84.50H675.67" stroke="#7E451A" stroke-width="0.8" fill="none"/><path d="M671.28 146.53V185.72" stroke="#161814" stroke-width="1.39" fill="none"/><path d="M667.33 146.50H675.67M667.33 185.50H675.67" stroke="#161814" stroke-width="0.8" fill="none"/><path d="M671.28 227.44V267.44" stroke="#46552A" stroke-width="1.39" fill="none"/><path d="M667.33 227.50H675.67M667.33 267.50H675.67" stroke="#46552A" stroke-width="0.8" fill="none"/><path d="M690.22 40.22V85.26" stroke="#7E451A" stroke-width="1.39" fill="none"/><path d="M686.33 40.50H694.67M686.33 85.50H694.67" stroke="#7E451A" stroke-width="0.8" fill="none"/><path d="M690.22 146.53V185.72" stroke="#161814" stroke-width="1.39" fill="none"/><path d="M686.33 146.50H694.67M686.33 185.50H694.67" stroke="#161814" stroke-width="0.8" fill="none"/><path d="M690.22 220.52V250.28" stroke="#46552A" stroke-width="1.39" fill="none"/><path d="M686.33 220.50H694.67M686.33 250.50H694.67" stroke="#46552A" stroke-width="0.8" fill="none"/><path d="M709.17 68.34V104.25" stroke="#7E451A" stroke-width="1.39" fill="none"/><path d="M705.33 68.50H713.67M705.33 104.50H713.67" stroke="#7E451A" stroke-width="0.8" fill="none"/><path d="M709.17 146.53V185.72" stroke="#161814" stroke-width="1.39" fill="none"/><path d="M705.33 146.50H713.67M705.33 185.50H713.67" stroke="#161814" stroke-width="0.8" fill="none"/><path d="M709.17 237.48V272.52" stroke="#46552A" stroke-width="1.39" fill="none"/><path d="M705.33 237.50H713.67M705.33 272.50H713.67" stroke="#46552A" stroke-width="0.8" fill="none"/><path d="M728.11 67.30V101.21" stroke="#7E451A" stroke-width="1.39" fill="none"/><path d="M724.33 67.50H732.67M724.33 101.50H732.67" stroke="#7E451A" stroke-width="0.8" fill="none"/><path d="M728.11 146.53V185.72" stroke="#161814" stroke-width="1.39" fill="none"/><path d="M724.33 146.50H732.67M724.33 185.50H732.67" stroke="#161814" stroke-width="0.8" fill="none"/><path d="M728.11 238.40V272.32" stroke="#46552A" stroke-width="1.39" fill="none"/><path d="M724.33 238.50H732.67M724.33 272.50H732.67" stroke="#46552A" stroke-width="0.8" fill="none"/><path d="M747.06 68.34V104.25" stroke="#7E451A" stroke-width="1.39" fill="none"/><path d="M743.33 68.50H751.67M743.33 104.50H751.67" stroke="#7E451A" stroke-width="0.8" fill="none"/><path d="M747.06 146.53V185.72" stroke="#161814" stroke-width="1.39" fill="none"/><path d="M743.33 146.50H751.67M743.33 185.50H751.67" stroke="#161814" stroke-width="0.8" fill="none"/><path d="M747.06 237.48V272.52" stroke="#46552A" stroke-width="1.39" fill="none"/><path d="M743.33 237.50H751.67M743.33 272.50H751.67" stroke="#46552A" stroke-width="0.8" fill="none"/><path d="M766.00 66.66V101.45" stroke="#7E451A" stroke-width="1.39" fill="none"/><path d="M762.33 66.50H770.67M762.33 101.50H770.67" stroke="#7E451A" stroke-width="0.8" fill="none"/><path d="M766.00 146.53V185.72" stroke="#161814" stroke-width="1.39" fill="none"/><path d="M762.33 146.50H770.67M762.33 185.50H770.67" stroke="#161814" stroke-width="0.8" fill="none"/><path d="M766.00 249.40V289.23" stroke="#46552A" stroke-width="1.39" fill="none"/><path d="M762.33 249.50H770.67M762.33 289.50H770.67" stroke="#46552A" stroke-width="0.8" fill="none"/><path d="M784.95 67.30V101.21" stroke="#7E451A" stroke-width="1.39" fill="none"/><path d="M781.33 67.50H789.67M781.33 101.50H789.67" stroke="#7E451A" stroke-width="0.8" fill="none"/><path d="M784.95 146.53V185.72" stroke="#161814" stroke-width="1.39" fill="none"/><path d="M781.33 146.50H789.67M781.33 185.50H789.67" stroke="#161814" stroke-width="0.8" fill="none"/><path d="M784.95 239.56V280.68" stroke="#46552A" stroke-width="1.39" fill="none"/><path d="M781.33 239.50H789.67M781.33 280.50H789.67" stroke="#46552A" stroke-width="0.8" fill="none"/><path d="M803.89 68.34V104.25" stroke="#7E451A" stroke-width="1.39" fill="none"/><path d="M800.33 68.50H808.67M800.33 104.50H808.67" stroke="#7E451A" stroke-width="0.8" fill="none"/><path d="M803.89 146.53V185.72" stroke="#161814" stroke-width="1.39" fill="none"/><path d="M800.33 146.50H808.67M800.33 185.50H808.67" stroke="#161814" stroke-width="0.8" fill="none"/><path d="M803.89 250.76V281.64" stroke="#46552A" stroke-width="1.39" fill="none"/><path d="M800.33 250.50H808.67M800.33 281.50H808.67" stroke="#46552A" stroke-width="0.8" fill="none"/><path d="M822.84 32.38V70.54" stroke="#7E451A" stroke-width="1.39" fill="none"/><path d="M819.33 32.50H827.67M819.33 70.50H827.67" stroke="#7E451A" stroke-width="0.8" fill="none"/><path d="M822.84 146.53V185.72" stroke="#161814" stroke-width="1.39" fill="none"/><path d="M819.33 146.50H827.67M819.33 185.50H827.67" stroke="#161814" stroke-width="0.8" fill="none"/><path d="M822.84 356.11V418.50" stroke="#46552A" stroke-width="1.39" fill="none"/><path d="M819.33 356.50H827.67M819.33 418.50H827.67" stroke="#46552A" stroke-width="0.8" fill="none"/><path d="M841.78 67.46V109.05" stroke="#7E451A" stroke-width="1.39" fill="none"/><path d="M838.33 67.50H846.67M838.33 109.50H846.67" stroke="#7E451A" stroke-width="0.8" fill="none"/><path d="M841.78 146.53V185.72" stroke="#161814" stroke-width="1.39" fill="none"/><path d="M838.33 146.50H846.67M838.33 185.50H846.67" stroke="#161814" stroke-width="0.8" fill="none"/><path d="M841.78 230.40V272.32" stroke="#46552A" stroke-width="1.39" fill="none"/><path d="M838.33 230.50H846.67M838.33 272.50H846.67" stroke="#46552A" stroke-width="0.8" fill="none"/><path d="M860.73 107.21V148.25" stroke="#7E451A" stroke-width="1.39" fill="none"/><path d="M857.33 107.50H865.67M857.33 148.50H865.67" stroke="#7E451A" stroke-width="0.8" fill="none"/><path d="M860.73 146.53V185.72" stroke="#161814" stroke-width="1.39" fill="none"/><path d="M857.33 146.50H865.67M857.33 185.50H865.67" stroke="#161814" stroke-width="0.8" fill="none"/><path d="M860.73 170.21V211.00" stroke="#46552A" stroke-width="1.39" fill="none"/><path d="M857.33 170.50H865.67M857.33 211.50H865.67" stroke="#46552A" stroke-width="0.8" fill="none"/></g>
<path d="M65.50 435.5v-6.2M65.50 35.5v6.2M84.50 435.5v-6.2M84.50 35.5v6.2M103.50 435.5v-6.2M103.50 35.5v6.2M122.50 435.5v-6.2M122.50 35.5v6.2M141.50 435.5v-6.2M141.50 35.5v6.2M160.50 435.5v-6.2M160.50 35.5v6.2M179.50 435.5v-6.2M179.50 35.5v6.2M198.50 435.5v-6.2M198.50 35.5v6.2M217.50 435.5v-6.2M217.50 35.5v6.2M236.50 435.5v-6.2M236.50 35.5v6.2M254.50 435.5v-6.2M254.50 35.5v6.2M273.50 435.5v-6.2M273.50 35.5v6.2M292.50 435.5v-6.2M292.50 35.5v6.2M311.50 435.5v-6.2M311.50 35.5v6.2M330.50 435.5v-6.2M330.50 35.5v6.2M349.50 435.5v-6.2M349.50 35.5v6.2M368.50 435.5v-6.2M368.50 35.5v6.2M387.50 435.5v-6.2M387.50 35.5v6.2M406.50 435.5v-6.2M406.50 35.5v6.2M425.50 435.5v-6.2M425.50 35.5v6.2M444.50 435.5v-6.2M444.50 35.5v6.2M463.50 435.5v-6.2M463.50 35.5v6.2M482.50 435.5v-6.2M482.50 35.5v6.2M501.50 435.5v-6.2M501.50 35.5v6.2M520.50 435.5v-6.2M520.50 35.5v6.2M539.50 435.5v-6.2M539.50 35.5v6.2M558.50 435.5v-6.2M558.50 35.5v6.2M577.50 435.5v-6.2M577.50 35.5v6.2M595.50 435.5v-6.2M595.50 35.5v6.2M614.50 435.5v-6.2M614.50 35.5v6.2M633.50 435.5v-6.2M633.50 35.5v6.2M652.50 435.5v-6.2M652.50 35.5v6.2M671.50 435.5v-6.2M671.50 35.5v6.2M690.50 435.5v-6.2M690.50 35.5v6.2M709.50 435.5v-6.2M709.50 35.5v6.2M728.50 435.5v-6.2M728.50 35.5v6.2M747.50 435.5v-6.2M747.50 35.5v6.2M766.50 435.5v-6.2M766.50 35.5v6.2M785.50 435.5v-6.2M785.50 35.5v6.2M804.50 435.5v-6.2M804.50 35.5v6.2M823.50 435.5v-6.2M823.50 35.5v6.2M842.50 435.5v-6.2M842.50 35.5v6.2M861.50 435.5v-6.2M861.50 35.5v6.2M57.5 435.50h6.2M910.5 435.50h-6.2M57.5 355.50h6.2M910.5 355.50h-6.2M57.5 275.50h6.2M910.5 275.50h-6.2M57.5 195.50h6.2M910.5 195.50h-6.2M57.5 115.50h6.2M910.5 115.50h-6.2M57.5 35.50h6.2M910.5 35.50h-6.2" stroke="#000" stroke-width="1.1" fill="none"/>
<rect x="57.5" y="35.5" width="853" height="400" fill="none" stroke="#000" stroke-width="1.3"/>
<text x="484.3" y="23.8" font-family="Liberation Serif" font-size="22.4" text-anchor="middle" textLength="748.5" lengthAdjust="spacingAndGlyphs">Predictions supported and prevented by validators (randomized order, mr/hbr/dt)</text>
<text transform="translate(20.9,236.6) rotate(-90)" font-family="Liberation Serif" text-rendering="geometricPrecision" font-size="16.6" text-anchor="middle" textLength="343.5" lengthAdjust="spacingAndGlyphs">Ratio (mean and STDV of 20 random orders)</text>
<text transform="translate(52.8,440.30) scale(0.98,1)" font-family="Liberation Serif" text-rendering="geometricPrecision" font-size="17.6" text-anchor="end">0.0</text>
<text transform="translate(52.8,360.31) scale(0.98,1)" font-family="Liberation Serif" text-rendering="geometricPrecision" font-size="17.6" text-anchor="end">0.2</text>
<text transform="translate(52.8,280.32) scale(0.98,1)" font-family="Liberation Serif" text-rendering="geometricPrecision" font-size="17.6" text-anchor="end">0.4</text>
<text transform="translate(52.8,200.32) scale(0.98,1)" font-family="Liberation Serif" text-rendering="geometricPrecision" font-size="17.6" text-anchor="end">0.6</text>
<text transform="translate(52.8,120.33) scale(0.98,1)" font-family="Liberation Serif" text-rendering="geometricPrecision" font-size="17.6" text-anchor="end">0.8</text>
<text transform="translate(52.8,40.34) scale(0.98,1)" font-family="Liberation Serif" text-rendering="geometricPrecision" font-size="17.6" text-anchor="end">1.0</text>
<text transform="translate(68.89,440.2) rotate(-90)" font-family="Liberation Serif" text-rendering="geometricPrecision" font-size="17.2" text-anchor="end" textLength="42.7" lengthAdjust="spacingAndGlyphs">cmdp</text>
<text transform="translate(87.83,440.2) rotate(-90)" font-family="Liberation Serif" text-rendering="geometricPrecision" font-size="17.2" text-anchor="end" textLength="35.9" lengthAdjust="spacingAndGlyphs">csdp</text>
<text transform="translate(106.78,440.2) rotate(-90)" font-family="Liberation Serif" text-rendering="geometricPrecision" font-size="17.2" text-anchor="end" textLength="36.7" lengthAdjust="spacingAndGlyphs">cxdp</text>
<text transform="translate(125.72,440.2) rotate(-90)" font-family="Liberation Serif" text-rendering="geometricPrecision" font-size="17.2" text-anchor="end" textLength="61.8" lengthAdjust="spacingAndGlyphs">dynconf</text>
<text transform="translate(144.67,440.2) rotate(-90)" font-family="Liberation Serif" text-rendering="geometricPrecision" font-size="17.2" text-anchor="end" textLength="17.4" lengthAdjust="spacingAndGlyphs">hy</text>
<text transform="translate(144.67,458.3) rotate(-90)" font-family="Liberation Serif" text-rendering="geometricPrecision" font-size="17.2" text-anchor="end" textLength="57.8" lengthAdjust="spacingAndGlyphs">hierarc</text>
<text transform="translate(163.61,440.2) rotate(-90)" font-family="Liberation Serif" text-rendering="geometricPrecision" font-size="17.2" text-anchor="end" textLength="41.1" lengthAdjust="spacingAndGlyphs">imdp</text>
<text transform="translate(182.56,440.2) rotate(-90)" font-family="Liberation Serif" text-rendering="geometricPrecision" font-size="17.2" text-anchor="end" textLength="34.4" lengthAdjust="spacingAndGlyphs">isdp</text>
<text transform="translate(201.50,440.2) rotate(-90)" font-family="Liberation Serif" text-rendering="geometricPrecision" font-size="17.2" text-anchor="end" textLength="35.2" lengthAdjust="spacingAndGlyphs">ixdp</text>
<text transform="translate(222.00,440.2) rotate(-90)" font-family="Liberation Serif" text-rendering="geometricPrecision" font-size="17.2" text-anchor="end" textLength="63.4" lengthAdjust="spacingAndGlyphs">minconf</text>
<text transform="translate(239.04,440.2) rotate(-90)" font-family="Liberation Serif" text-rendering="geometricPrecision" font-size="17.2" text-anchor="end" textLength="38.7" lengthAdjust="spacingAndGlyphs">none</text>
<text transform="translate(259.89,440.2) rotate(-90)" font-family="Liberation Serif" text-rendering="geometricPrecision" font-size="17.2" text-anchor="end" textLength="51.4" lengthAdjust="spacingAndGlyphs">om100</text>
<text transform="translate(278.83,440.2) rotate(-90)" font-family="Liberation Serif" text-rendering="geometricPrecision" font-size="17.2" text-anchor="end" textLength="43.1" lengthAdjust="spacingAndGlyphs">om50</text>
<text transform="translate(297.78,440.2) rotate(-90)" font-family="Liberation Serif" text-rendering="geometricPrecision" font-size="17.2" text-anchor="end" textLength="43.1" lengthAdjust="spacingAndGlyphs">om75</text>
<text transform="translate(316.72,440.2) rotate(-90)" font-family="Liberation Serif" text-rendering="geometricPrecision" font-size="17.2" text-anchor="end" textLength="61.2" lengthAdjust="spacingAndGlyphs">omx100</text>
<text transform="translate(335.67,440.2) rotate(-90)" font-family="Liberation Serif" text-rendering="geometricPrecision" font-size="17.2" text-anchor="end" textLength="51.9" lengthAdjust="spacingAndGlyphs">omx50</text>
<text transform="translate(354.61,440.2) rotate(-90)" font-family="Liberation Serif" text-rendering="geometricPrecision" font-size="17.2" text-anchor="end" textLength="51.9" lengthAdjust="spacingAndGlyphs">omx75</text>
<text transform="translate(373.56,440.2) rotate(-90)" font-family="Liberation Serif" text-rendering="geometricPrecision" font-size="17.2" text-anchor="end" textLength="68.9" lengthAdjust="spacingAndGlyphs">omxc100</text>
<text transform="translate(392.50,440.2) rotate(-90)" font-family="Liberation Serif" text-rendering="geometricPrecision" font-size="17.2" text-anchor="end" textLength="59.6" lengthAdjust="spacingAndGlyphs">omxc50</text>
<text transform="translate(411.45,440.2) rotate(-90)" font-family="Liberation Serif" text-rendering="geometricPrecision" font-size="17.2" text-anchor="end" textLength="59.2" lengthAdjust="spacingAndGlyphs">omxc75</text>
<text transform="translate(428.84,440.2) rotate(-90)" font-family="Liberation Serif" text-rendering="geometricPrecision" font-size="17.2" text-anchor="end" textLength="32.6" lengthAdjust="spacingAndGlyphs">pw1</text>
<text transform="translate(447.79,440.2) rotate(-90)" font-family="Liberation Serif" text-rendering="geometricPrecision" font-size="17.2" text-anchor="end" textLength="33.2" lengthAdjust="spacingAndGlyphs">pw2</text>
<text transform="translate(466.73,440.2) rotate(-90)" font-family="Liberation Serif" text-rendering="geometricPrecision" font-size="17.2" text-anchor="end" textLength="50.0" lengthAdjust="spacingAndGlyphs">pwr25</text>
<text transform="translate(485.68,440.2) rotate(-90)" font-family="Liberation Serif" text-rendering="geometricPrecision" font-size="17.2" text-anchor="end" textLength="50.0" lengthAdjust="spacingAndGlyphs">pwr50</text>
<text transform="translate(504.62,440.2) rotate(-90)" font-family="Liberation Serif" text-rendering="geometricPrecision" font-size="17.2" text-anchor="end" textLength="50.0" lengthAdjust="spacingAndGlyphs">pwr75</text>
<text transform="translate(525.12,440.2) rotate(-90)" font-family="Liberation Serif" text-rendering="geometricPrecision" font-size="17.2" text-anchor="end" textLength="28.3" lengthAdjust="spacingAndGlyphs">uc1</text>
<text transform="translate(542.51,440.2) rotate(-90)" font-family="Liberation Serif" text-rendering="geometricPrecision" font-size="17.2" text-anchor="end" textLength="89.8" lengthAdjust="spacingAndGlyphs">uc1 + omdp</text>
<text transform="translate(563.01,440.2) rotate(-90)" font-family="Liberation Serif" text-rendering="geometricPrecision" font-size="17.2" text-anchor="end" textLength="106.1" lengthAdjust="spacingAndGlyphs">uc1 + omx100</text>
<text transform="translate(581.95,440.2) rotate(-90)" font-family="Liberation Serif" text-rendering="geometricPrecision" font-size="17.2" text-anchor="end" textLength="97.1" lengthAdjust="spacingAndGlyphs">uc1 + omx75</text>
<text transform="translate(599.35,440.2) rotate(-90)" font-family="Liberation Serif" text-rendering="geometricPrecision" font-size="17.2" text-anchor="end" textLength="84.3" lengthAdjust="spacingAndGlyphs">uc1 + oxdp</text>
<text transform="translate(619.84,440.2) rotate(-90)" font-family="Liberation Serif" text-rendering="geometricPrecision" font-size="17.2" text-anchor="end" textLength="28.3" lengthAdjust="spacingAndGlyphs">uc2</text>
<text transform="translate(637.24,440.2) rotate(-90)" font-family="Liberation Serif" text-rendering="geometricPrecision" font-size="17.2" text-anchor="end" textLength="89.8" lengthAdjust="spacingAndGlyphs">uc2 + omdp</text>
<text transform="translate(657.73,440.2) rotate(-90)" font-family="Liberation Serif" text-rendering="geometricPrecision" font-size="17.2" text-anchor="end" textLength="106.1" lengthAdjust="spacingAndGlyphs">uc2 + omx100</text>
<text transform="translate(676.68,440.2) rotate(-90)" font-family="Liberation Serif" text-rendering="geometricPrecision" font-size="17.2" text-anchor="end" textLength="97.1" lengthAdjust="spacingAndGlyphs">uc2 + omx75</text>
<text transform="translate(694.07,440.2) rotate(-90)" font-family="Liberation Serif" text-rendering="geometricPrecision" font-size="17.2" text-anchor="end" textLength="83.5" lengthAdjust="spacingAndGlyphs">uc2 + oxdp</text>
<text transform="translate(712.67,440.2) rotate(-90)" font-family="Liberation Serif" text-rendering="geometricPrecision" font-size="17.2" text-anchor="end" textLength="33.2" lengthAdjust="spacingAndGlyphs">ucm</text>
<text transform="translate(731.96,440.2) rotate(-90)" font-family="Liberation Serif" text-rendering="geometricPrecision" font-size="17.2" text-anchor="end" textLength="91.7" lengthAdjust="spacingAndGlyphs">ucm + imdp</text>
<text transform="translate(750.91,440.2) rotate(-90)" font-family="Liberation Serif" text-rendering="geometricPrecision" font-size="17.2" text-anchor="end" textLength="86.2" lengthAdjust="spacingAndGlyphs">ucm + ixdp</text>
<text transform="translate(771.40,440.2) rotate(-90)" font-family="Liberation Serif" text-rendering="geometricPrecision" font-size="17.2" text-anchor="end" textLength="113.4" lengthAdjust="spacingAndGlyphs">ucm + omx100</text>
<text transform="translate(790.35,440.2) rotate(-90)" font-family="Liberation Serif" text-rendering="geometricPrecision" font-size="17.2" text-anchor="end" textLength="103.9" lengthAdjust="spacingAndGlyphs">ucm + omx75</text>
<text transform="translate(807.39,440.2) rotate(-90)" font-family="Liberation Serif" text-rendering="geometricPrecision" font-size="17.2" text-anchor="end" textLength="26.4" lengthAdjust="spacingAndGlyphs">ucs</text>
<text transform="translate(828.24,440.2) rotate(-90)" font-family="Liberation Serif" text-rendering="geometricPrecision" font-size="17.2" text-anchor="end" textLength="46.8" lengthAdjust="spacingAndGlyphs">udr25</text>
<text transform="translate(847.18,440.2) rotate(-90)" font-family="Liberation Serif" text-rendering="geometricPrecision" font-size="17.2" text-anchor="end" textLength="46.8" lengthAdjust="spacingAndGlyphs">udr50</text>
<text transform="translate(866.13,440.2) rotate(-90)" font-family="Liberation Serif" text-rendering="geometricPrecision" font-size="17.2" text-anchor="end" textLength="46.8" lengthAdjust="spacingAndGlyphs">udr75</text>
<rect x="391.5" y="372.5" width="511.0" height="55.0" fill="#fff" stroke="#000" stroke-width="1.1"/>
<text x="644.9" y="391.7" font-family="Liberation Serif" text-rendering="geometricPrecision" font-size="17.0" text-anchor="middle" textLength="99" lengthAdjust="spacingAndGlyphs">Stacked bars</text>
<rect x="397.5" y="405.5" width="33.4" height="12" fill="#EA9651" stroke="#7A3E0E" stroke-width="1.1"/>
<text x="443.7" y="416.8" font-family="Liberation Serif" text-rendering="geometricPrecision" font-size="18.4" textLength="55.1" lengthAdjust="spacingAndGlyphs">supneg</text>
<rect x="532.5" y="405.5" width="33.4" height="12" fill="#F2B88A" stroke="#7A3E0E" stroke-width="1.1"/>
<text x="577.9" y="416.8" font-family="Liberation Serif" text-rendering="geometricPrecision" font-size="18.4" textLength="52.2" lengthAdjust="spacingAndGlyphs">preneg</text>
<rect x="665.7" y="405.5" width="33.4" height="12" fill="#CFD7AE" stroke="#4A5424" stroke-width="1.1"/>
<text x="711.1" y="416.8" font-family="Liberation Serif" text-rendering="geometricPrecision" font-size="18.4" textLength="50.6" lengthAdjust="spacingAndGlyphs">prepos</text>
<rect x="795.8" y="405.5" width="33.4" height="12" fill="#B3C183" stroke="#4A5424" stroke-width="1.1"/>
<text x="842.2" y="416.8" font-family="Liberation Serif" text-rendering="geometricPrecision" font-size="18.4" textLength="53.6" lengthAdjust="spacingAndGlyphs">suppos</text>
</svg></body></html>
